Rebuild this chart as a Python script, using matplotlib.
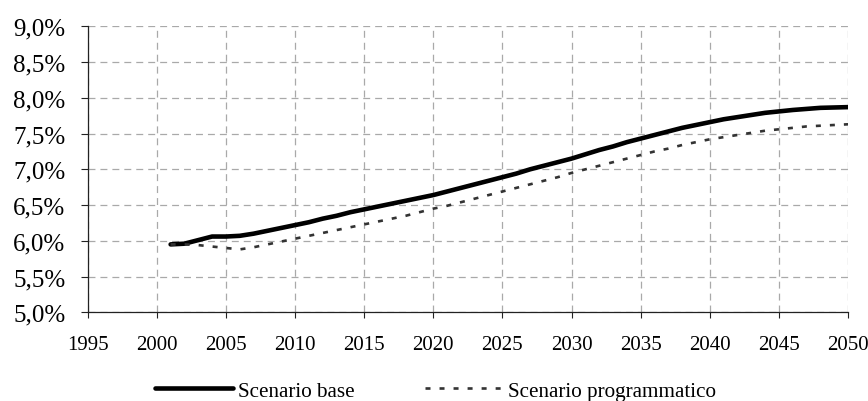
import matplotlib
matplotlib.use("Agg")
from matplotlib import pyplot as plt
from matplotlib.ticker import FuncFormatter

years = list(range(2001, 2051))

# spesa in % del PIL, scenario base
base = [5.95, 5.96, 6.01, 6.06, 6.06, 6.07, 6.10, 6.14, 6.18, 6.22,
        6.26, 6.31, 6.35, 6.40, 6.44, 6.48, 6.52, 6.56, 6.60, 6.64,
        6.69, 6.74, 6.79, 6.84, 6.89, 6.94, 7.00, 7.05, 7.10, 7.15,
        7.21, 7.27, 7.32, 7.38, 7.43, 7.48, 7.53, 7.58, 7.62, 7.66,
        7.70, 7.73, 7.76, 7.79, 7.81, 7.83, 7.845, 7.86, 7.865, 7.87]

# scenario programmatico
prog = [5.95, 5.95, 5.94, 5.92, 5.90, 5.88, 5.91, 5.95, 5.99, 6.03,
        6.07, 6.11, 6.15, 6.19, 6.23, 6.27, 6.31, 6.35, 6.40, 6.45,
        6.49, 6.54, 6.59, 6.64, 6.69, 6.74, 6.79, 6.84, 6.89, 6.95,
        7.00, 7.05, 7.10, 7.15, 7.20, 7.25, 7.29, 7.34, 7.38, 7.42,
        7.45, 7.48, 7.51, 7.54, 7.56, 7.58, 7.60, 7.61, 7.62, 7.63]

labels = ["Scenario base", "Scenario programmatico"]
xticks = list(range(1995, 2051, 5))
yticks = [5.0, 5.5, 6.0, 6.5, 7.0, 7.5, 8.0, 8.5, 9.0]

plt.rcParams['font.family'] = ['Liberation Serif', 'DejaVu Serif']
plt.rcParams['lines.scale_dashes'] = False

fig = plt.figure(figsize=(8.68, 4.02), dpi=100)
ax = fig.add_axes([0.101, 0.2206, 0.876, 0.7114])

ax.plot(years, base, color='black', lw=3.3, solid_capstyle='round', label=labels[0], zorder=3)
ax.plot(years, prog, color='#333333', lw=1.9, dashes=(3.6, 6.5), label=labels[1], zorder=3)

ax.set_xlim(1995, 2050)
ax.set_ylim(5.0, 9.0)
ax.set_xticks(xticks)
ax.set_yticks(yticks)
ax.yaxis.set_major_formatter(FuncFormatter(lambda v, p: ("%.1f%%" % v).replace('.', ',')))

ax.grid(True, color='#a9a9a9', lw=0.9, dashes=(5, 3.6))
ax.set_axisbelow(True)
for s in ['top', 'right']:
    ax.spines[s].set_visible(False)
for s in ['left', 'bottom']:
    ax.spines[s].set_color('#222222')
    ax.spines[s].set_linewidth(0.9)

ax.tick_params(axis='y', direction='out', length=5, width=0.8, color='#222222', pad=11, labelsize=18)
ax.tick_params(axis='x', direction='out', length=4.5, width=0.8, color='#222222', pad=12, labelsize=15)

leg = fig.legend(loc='center left', bbox_to_anchor=(0.1786, 0.025), ncol=2, frameon=False,
                 fontsize=15.2, handlelength=3.7, handletextpad=0.21, columnspacing=3.36,
                 borderpad=0, borderaxespad=0)

fig.savefig('out.png', dpi=100)
